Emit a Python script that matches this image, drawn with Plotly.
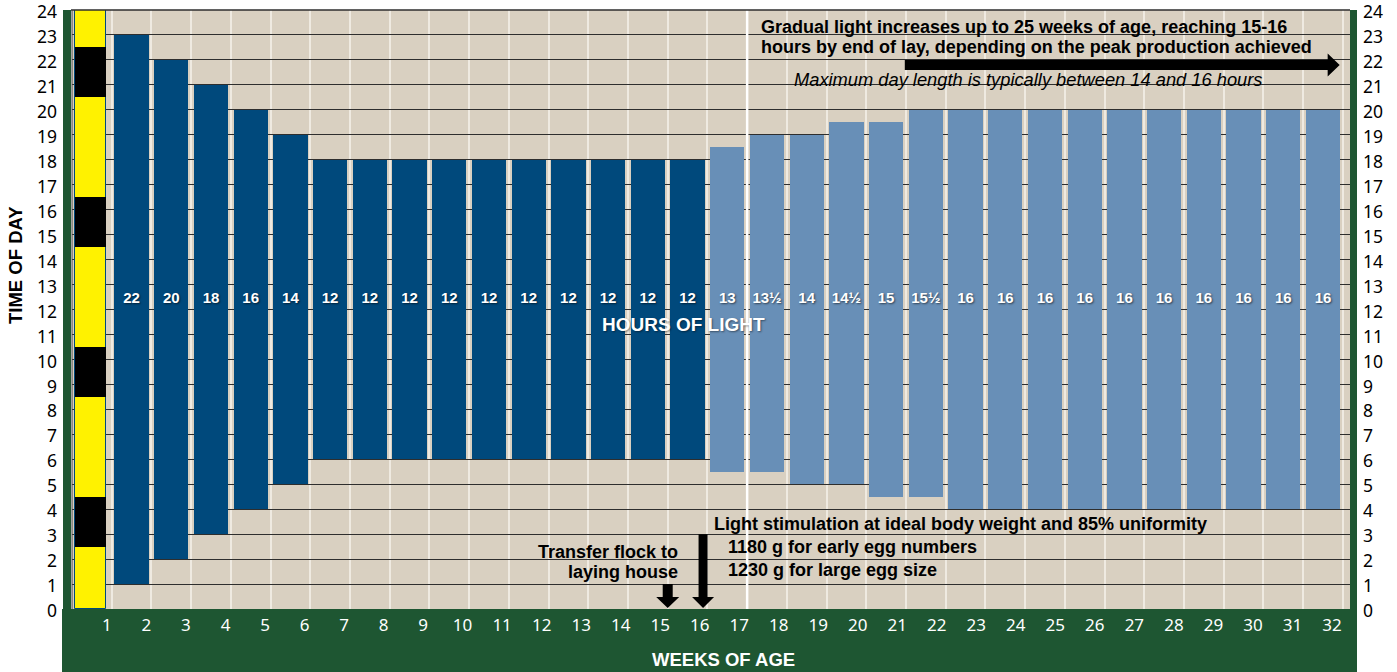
import plotly.graph_objects as go

# ---- data -------------------------------------------------------------
weeks = list(range(1, 32))
lights_on = [1, 2, 3, 4, 5] + [6] * 10 + [5.5, 5.5, 5, 5, 4.5, 4.5] + [4] * 10
hours_of_light = [22, 20, 18, 16, 14] + [12] * 10 + [13, 13.5, 14, 14.5, 15, 15.5] + [16] * 10
rearing_weeks = 15                      # weeks drawn in dark blue

# day/night key strip: dark periods (start hour, length)
night_starts = [2.5, 8.5, 14.5, 20.5]
night_lengths = [2, 2, 2, 2]

x_ticks = list(range(1, 33))
y_ticks = list(range(0, 25))

# ---- styling ------------------------------------------------------------
BEIGE = "#d9d0c1"
DARK_BLUE = "#00497c"
LIGHT_BLUE = "#688fb7"
GREEN = "#1e5632"
YELLOW = "#fff200"
GRID_DARK = "#2e2e2e"
BOLD = "Liberation Sans"
TICK_FONT = "Noto Sans"

W, H = 1397, 672
M_L, M_R, M_T, M_B = 72, 47, 10, 63
PLOT_W, PLOT_H = W - M_L - M_R, H - M_T - M_B
X_RANGE = [0, 32.18]
Y_RANGE = [0, 24]
PX_X = PLOT_W / (X_RANGE[1] - X_RANGE[0])
PX_Y = PLOT_H / (Y_RANGE[1] - Y_RANGE[0])
LABEL_Y = 12.4
LABEL_SHIFT = 0.12     # week numbers sit a little left of their grid lines
LABEL_STEP = 0.995


def half_label(h):
    whole = int(h)
    return f"{whole}½" if h - whole else f"{whole}"


def down_arrow(x, y_top, y_tip, shaft=10, head_w=23, head_len=11):
    sw, hw, hl = shaft / 2 / PX_X, head_w / 2 / PX_X, head_len / PX_Y
    yb = y_tip + hl
    return (f"M{x - sw},{y_top} L{x + sw},{y_top} L{x + sw},{yb} L{x + hw},{yb} "
            f"L{x},{y_tip} L{x - hw},{yb} L{x - sw},{yb} Z")


def right_arrow(x0, x_tip, y, shaft=10, head_w=23, head_len=12):
    sh, hh, hl = shaft / 2 / PX_Y, head_w / 2 / PX_Y, head_len / PX_X
    xb = x_tip - hl
    return (f"M{x0},{y - sh} L{xb},{y - sh} L{xb},{y - hh} L{x_tip},{y} "
            f"L{xb},{y + hh} L{xb},{y + sh} L{x0},{y + sh} Z")


def px_to_paper_x(px):
    return (px - M_L) / PLOT_W


def px_to_paper_y(py):
    return (H - M_B - py) / PLOT_H


centers = [w + 0.5 for w in weeks]
colors = [DARK_BLUE if w <= rearing_weeks else LIGHT_BLUE for w in weeks]

fig = go.Figure()

# day/night key strip
fig.add_trace(go.Bar(x=[0.466], y=[24], base=[0], width=0.78,
                     marker=dict(color=YELLOW, line=dict(color=DARK_BLUE, width=1)),
                     hoverinfo="skip", showlegend=False))
fig.add_trace(go.Bar(x=[0.466] * len(night_starts), y=night_lengths, base=night_starts,
                     width=0.76, marker=dict(color="black", line=dict(width=0)),
                     hoverinfo="skip", showlegend=False))

# lighting programme bars
fig.add_trace(go.Bar(x=centers, y=hours_of_light, base=lights_on, width=0.86,
                     marker=dict(color=colors, line=dict(width=0)),
                     showlegend=False))

fig.add_trace(go.Scatter(
    x=centers, y=[LABEL_Y] * len(weeks), mode="text",
    text=[half_label(h) for h in hours_of_light],
    textfont=dict(family=BOLD, size=15, color="white", weight="bold",
                  shadow="1px 1px 2px rgba(0,0,0,0.55)"),
    hoverinfo="skip", showlegend=False))

# invisible traces so the week-number axis and right-hand axis are drawn
fig.add_trace(go.Scatter(x=[1], y=[0], xaxis="x2", mode="markers",
                         marker=dict(opacity=0), hoverinfo="skip", showlegend=False))
fig.add_trace(go.Scatter(x=[1], y=[0], yaxis="y2", mode="markers",
                         marker=dict(opacity=0), hoverinfo="skip", showlegend=False))

shapes = [
    # green frame: bottom band and side stripes
    dict(type="rect", xref="paper", yref="paper", x0=px_to_paper_x(62), x1=px_to_paper_x(1357),
         y0=px_to_paper_y(H), y1=0, fillcolor=GREEN, line=dict(width=0), layer="below"),
    dict(type="rect", xref="paper", yref="paper", x0=px_to_paper_x(63), x1=px_to_paper_x(71),
         y0=0, y1=1, fillcolor=GREEN, line=dict(width=0), layer="below"),
    dict(type="rect", xref="paper", yref="paper", x0=1.0, x1=px_to_paper_x(1357),
         y0=0, y1=1, fillcolor=GREEN, line=dict(width=0), layer="below"),
    # top and left borders of the grid
    dict(type="line", xref="paper", yref="paper", x0=px_to_paper_x(71), x1=1, y0=1, y1=1,
         line=dict(color=GRID_DARK, width=1.5), layer="above"),
    dict(type="line", xref="paper", yref="paper", x0=0, x1=0, y0=0, y1=1,
         line=dict(color="#444", width=1), layer="above"),
    # start of lay marker line
    dict(type="line", x0=17, x1=17, y0=0, y1=24, line=dict(color="white", width=2.5), layer="between"),
    # arrows
    dict(type="path", path=right_arrow(20.97, 31.92, 21.8), fillcolor="black", line=dict(width=0)),
    dict(type="path", path=down_arrow(15.0, 1.0, 0.04), fillcolor="black", line=dict(width=0)),
    dict(type="path", path=down_arrow(15.89, 3.0, 0.04, shaft=9, head_w=22), fillcolor="black", line=dict(width=0)),
]

txt = dict(family=BOLD, size=18, color="black", weight="bold")


def note(x, y, text, anchor="left", font=txt):
    return dict(x=x, y=y, xanchor=anchor, yanchor="middle", showarrow=False, text=text, font=font)


annotations = [
    note(17.3, 23.32, "Gradual light increases up to 25 weeks of age, reaching 15-16"),
    note(17.3, 22.52, "hours by end of lay, depending on the peak production achieved"),
    note(24.06, 21.2, "<i>Maximum day length is typically between 14 and 16 hours</i>", "center",
         dict(family=BOLD, size=18.3, color="black")),
    note(16.11, 3.42, "Light stimulation at ideal body weight and 85% uniformity"),
    note(16.47, 2.48, "1180 g for early egg numbers"),
    note(16.47, 1.56, "1230 g for large egg size"),
    note(15.31, 2.30, "Transfer flock to", "right"),
    note(15.31, 1.49, "laying house", "right"),
    note(15.41, 11.38, "HOURS OF LIGHT", "center",
         dict(family=BOLD, size=19, color="white", weight="bold",
              shadow="1px 1px 2px rgba(0,0,0,0.45)")),
    dict(xref="paper", yref="paper", x=px_to_paper_x(723), y=px_to_paper_y(659),
         xanchor="center", yanchor="middle", showarrow=False, text="WEEKS OF AGE",
         font=dict(family=BOLD, size=18.5, color="white", weight="bold")),
    dict(xref="paper", yref="paper", x=px_to_paper_x(15), y=px_to_paper_y(265),
         xanchor="center", yanchor="middle", showarrow=False, textangle=-90, text="TIME OF DAY",
         font=dict(family=BOLD, size=18.5, color="black", weight="bold")),
]

label_pos = [1 - LABEL_SHIFT + (t - 1) * LABEL_STEP for t in x_ticks]
hour_font = dict(family=TICK_FONT, size=17.5, color="black")

fig.update_layout(
    width=W, height=H, margin=dict(l=M_L, r=M_R, t=M_T, b=M_B, autoexpand=False),
    paper_bgcolor="white", plot_bgcolor=BEIGE, barmode="overlay", bargap=0,
    shapes=shapes, annotations=annotations, showlegend=False,
    xaxis=dict(range=X_RANGE, tickvals=x_ticks, showticklabels=False,
               showgrid=True, gridcolor="#efeae1", gridwidth=1.5, zeroline=False,
               ticks="", fixedrange=True, automargin=False),
    xaxis2=dict(range=X_RANGE, overlaying="x", side="bottom", tickvals=label_pos,
                ticktext=[str(t) for t in x_ticks], showgrid=False, zeroline=False,
                ticks="", ticklabelstandoff=4, fixedrange=True, ticklabeloverflow="allow",
                automargin=False,
                tickfont=dict(family=TICK_FONT, size=17, color="white")),
    yaxis=dict(range=Y_RANGE, tickvals=y_ticks, showgrid=True, gridcolor=GRID_DARK,
               gridwidth=1.2, zeroline=False, showline=False, automargin=False,
               ticks="", ticklabelstandoff=14, ticklabelshift=2, fixedrange=True,
               ticklabeloverflow="allow", tickfont=hour_font),
    yaxis2=dict(range=Y_RANGE, tickvals=y_ticks, overlaying="y", side="right",
                showgrid=False, zeroline=False, ticks="", ticklabelstandoff=12,
                ticklabelshift=2, fixedrange=True,
                ticklabeloverflow="allow", automargin=False, tickfont=hour_font),
)

fig.write_html("out.html")
